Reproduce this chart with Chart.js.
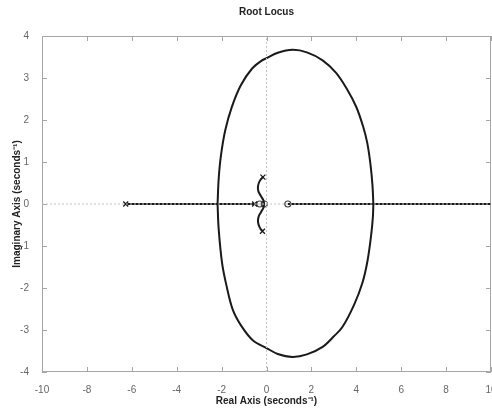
<!DOCTYPE html>
<html>
<head>
<meta charset="utf-8">
<script src="https://cdn.jsdelivr.net/npm/chart.js@4/dist/chart.umd.min.js"></script>
<style>
  body { margin: 0; background: #fff; }
  canvas { display: block; }
</style>
</head>
<body>
<canvas id="rootLocus" width="492" height="410"></canvas>
<script>
const xTicks = [-10, -8, -6, -4, -2, 0, 2, 4, 6, 8, 10];
const yTicks = [-4, -3, -2, -1, 0, 1, 2, 3, 4];

const poles = [[-6.27, 0], [-0.53, 0], [-0.16, 0.64], [-0.18, -0.65]];
const zeros = [[-0.3, 0], [-0.1, 0], [0.95, 0]];

const realLeft = [[-6.27, 0], [-0.53, 0]];
const realRight = [[0.95, 0], [10, 0]];

const ellipseUpper = [
  [-2.18, 0], [-2.13, 0.6], [-2.03, 1.15], [-1.84, 1.75], [-1.55, 2.3], [-1.15, 2.82],
  [-0.65, 3.22], [-0.2, 3.42], [0, 3.47], [0.5, 3.6], [1.16, 3.67], [1.8, 3.61],
  [2.5, 3.42], [3.1, 3.12], [3.6, 2.72], [4.0, 2.31], [4.3, 1.85], [4.49, 1.45],
  [4.63, 0.95], [4.72, 0.45], [4.76, 0]
];
const ellipseLower = [
  [-2.18, 0], [-2.13, -0.6], [-1.98, -1.4], [-1.78, -1.95], [-1.5, -2.52], [-1.1, -2.92],
  [-0.6, -3.25], [0, -3.43], [0.5, -3.57], [1.16, -3.64], [1.8, -3.58],
  [2.5, -3.4], [3.0, -3.15], [3.38, -2.93], [3.9, -2.4], [4.27, -1.88], [4.5, -1.35],
  [4.67, -0.7], [4.74, -0.3], [4.76, 0]
];

const sUpper = [[-0.16, 0.64], [-0.3, 0.55], [-0.38, 0.42], [-0.36, 0.3], [-0.25, 0.19], [-0.14, 0.09], [-0.1, 0]];
const sLower = [[-0.18, -0.65], [-0.31, -0.55], [-0.38, -0.42], [-0.35, -0.3], [-0.24, -0.19], [-0.14, -0.09], [-0.1, 0]];

const zeroLineX = [[-10, 0], [10, 0]];
const zeroLineY = [[0, -4], [0, 4]];

const pts = arr => arr.map(([x, y]) => ({ x, y }));
const ink = '#1a1a1a';
const axisGray = '#a6a6a6';

const lineSet = (data, extra = {}) => ({
  data: pts(data),
  showLine: true,
  borderColor: ink,
  borderWidth: 2,
  pointRadius: 0,
  tension: 0.35,
  ...extra
});

const boxPlugin = {
  id: 'box',
  beforeDatasetsDraw(chart) {
    const { ctx, chartArea: a, scales: { x, y } } = chart;
    ctx.save();
    ctx.strokeStyle = axisGray;
    ctx.lineWidth = 1;
    ctx.strokeRect(a.left + 0.5, a.top + 0.5, a.width - 1, a.height - 1);
    ctx.beginPath();
    xTicks.forEach(v => {
      const px = Math.round(x.getPixelForValue(v)) + 0.5;
      ctx.moveTo(px, a.bottom);
      ctx.lineTo(px, a.bottom - 5);
      ctx.moveTo(px, a.top);
      ctx.lineTo(px, a.top + 5);
    });
    yTicks.forEach(v => {
      const py = Math.round(y.getPixelForValue(v)) + 0.5;
      ctx.moveTo(a.left, py);
      ctx.lineTo(a.left + 5, py);
      ctx.moveTo(a.right, py);
      ctx.lineTo(a.right - 5, py);
    });
    ctx.stroke();
    ctx.restore();
  }
};

Chart.defaults.font.family = '"Liberation Sans", Arial, sans-serif';
Chart.defaults.font.size = 10;

new Chart(document.getElementById('rootLocus'), {
  type: 'scatter',
  data: {
    datasets: [
      lineSet(zeroLineX, { borderColor: '#c4c4c4', borderWidth: 1, borderDash: [2, 2], tension: 0 }),
      lineSet(zeroLineY, { borderColor: '#c4c4c4', borderWidth: 1, borderDash: [2, 2], tension: 0 }),
      lineSet(realLeft, { tension: 0 }),
      lineSet(realRight, { tension: 0 }),
      lineSet(ellipseUpper),
      lineSet(ellipseLower),
      lineSet(sUpper),
      lineSet(sLower),
      {
        data: pts(poles),
        pointStyle: 'crossRot',
        pointRadius: 3.5,
        pointBorderColor: ink,
        pointBorderWidth: 1.3
      },
      {
        data: pts(zeros),
        pointStyle: 'circle',
        pointRadius: 3,
        pointBackgroundColor: 'rgba(0,0,0,0)',
        pointBorderColor: '#444',
        pointBorderWidth: 1.2
      }
    ]
  },
  options: {
    responsive: false,
    animation: false,
    devicePixelRatio: 1,
    layout: { autoPadding: false, padding: { right: 1 } },
    plugins: {
      legend: { display: false },
      tooltip: { enabled: false },
      title: {
        display: true,
        text: 'Root Locus',
        fullSize: false,
        color: '#222',
        font: { size: 10, weight: 'bold' },
        padding: { top: 6, bottom: 18 }
      }
    },
    scales: {
      x: {
        type: 'linear',
        min: -10,
        max: 10,
        grid: { display: false },
        border: { display: false },
        ticks: { stepSize: 2, color: '#666', padding: 4, maxRotation: 0, autoSkip: false },
        title: {
          display: true,
          text: 'Real Axis (seconds⁻¹)',
          color: '#222',
          font: { size: 10, weight: 'bold' },
          padding: { top: 0, bottom: 3 }
        },
        afterFit: scale => {
          scale.height = 38;
          scale.paddingLeft = 0;
          scale.paddingRight = 0;
        }
      },
      y: {
        type: 'linear',
        min: -4,
        max: 4,
        grid: { display: false },
        border: { display: false },
        ticks: { stepSize: 1, color: '#666', padding: 5 },
        title: {
          display: true,
          text: 'Imaginary Axis (seconds⁻¹)',
          color: '#222',
          font: { size: 10, weight: 'bold' },
          padding: { top: 11, bottom: 0 }
        },
        afterFit: scale => {
          scale.width = 42;
          scale.paddingTop = 0;
          scale.paddingBottom = 0;
        }
      }
    }
  },
  plugins: [boxPlugin]
});
</script>
</body>
</html>
